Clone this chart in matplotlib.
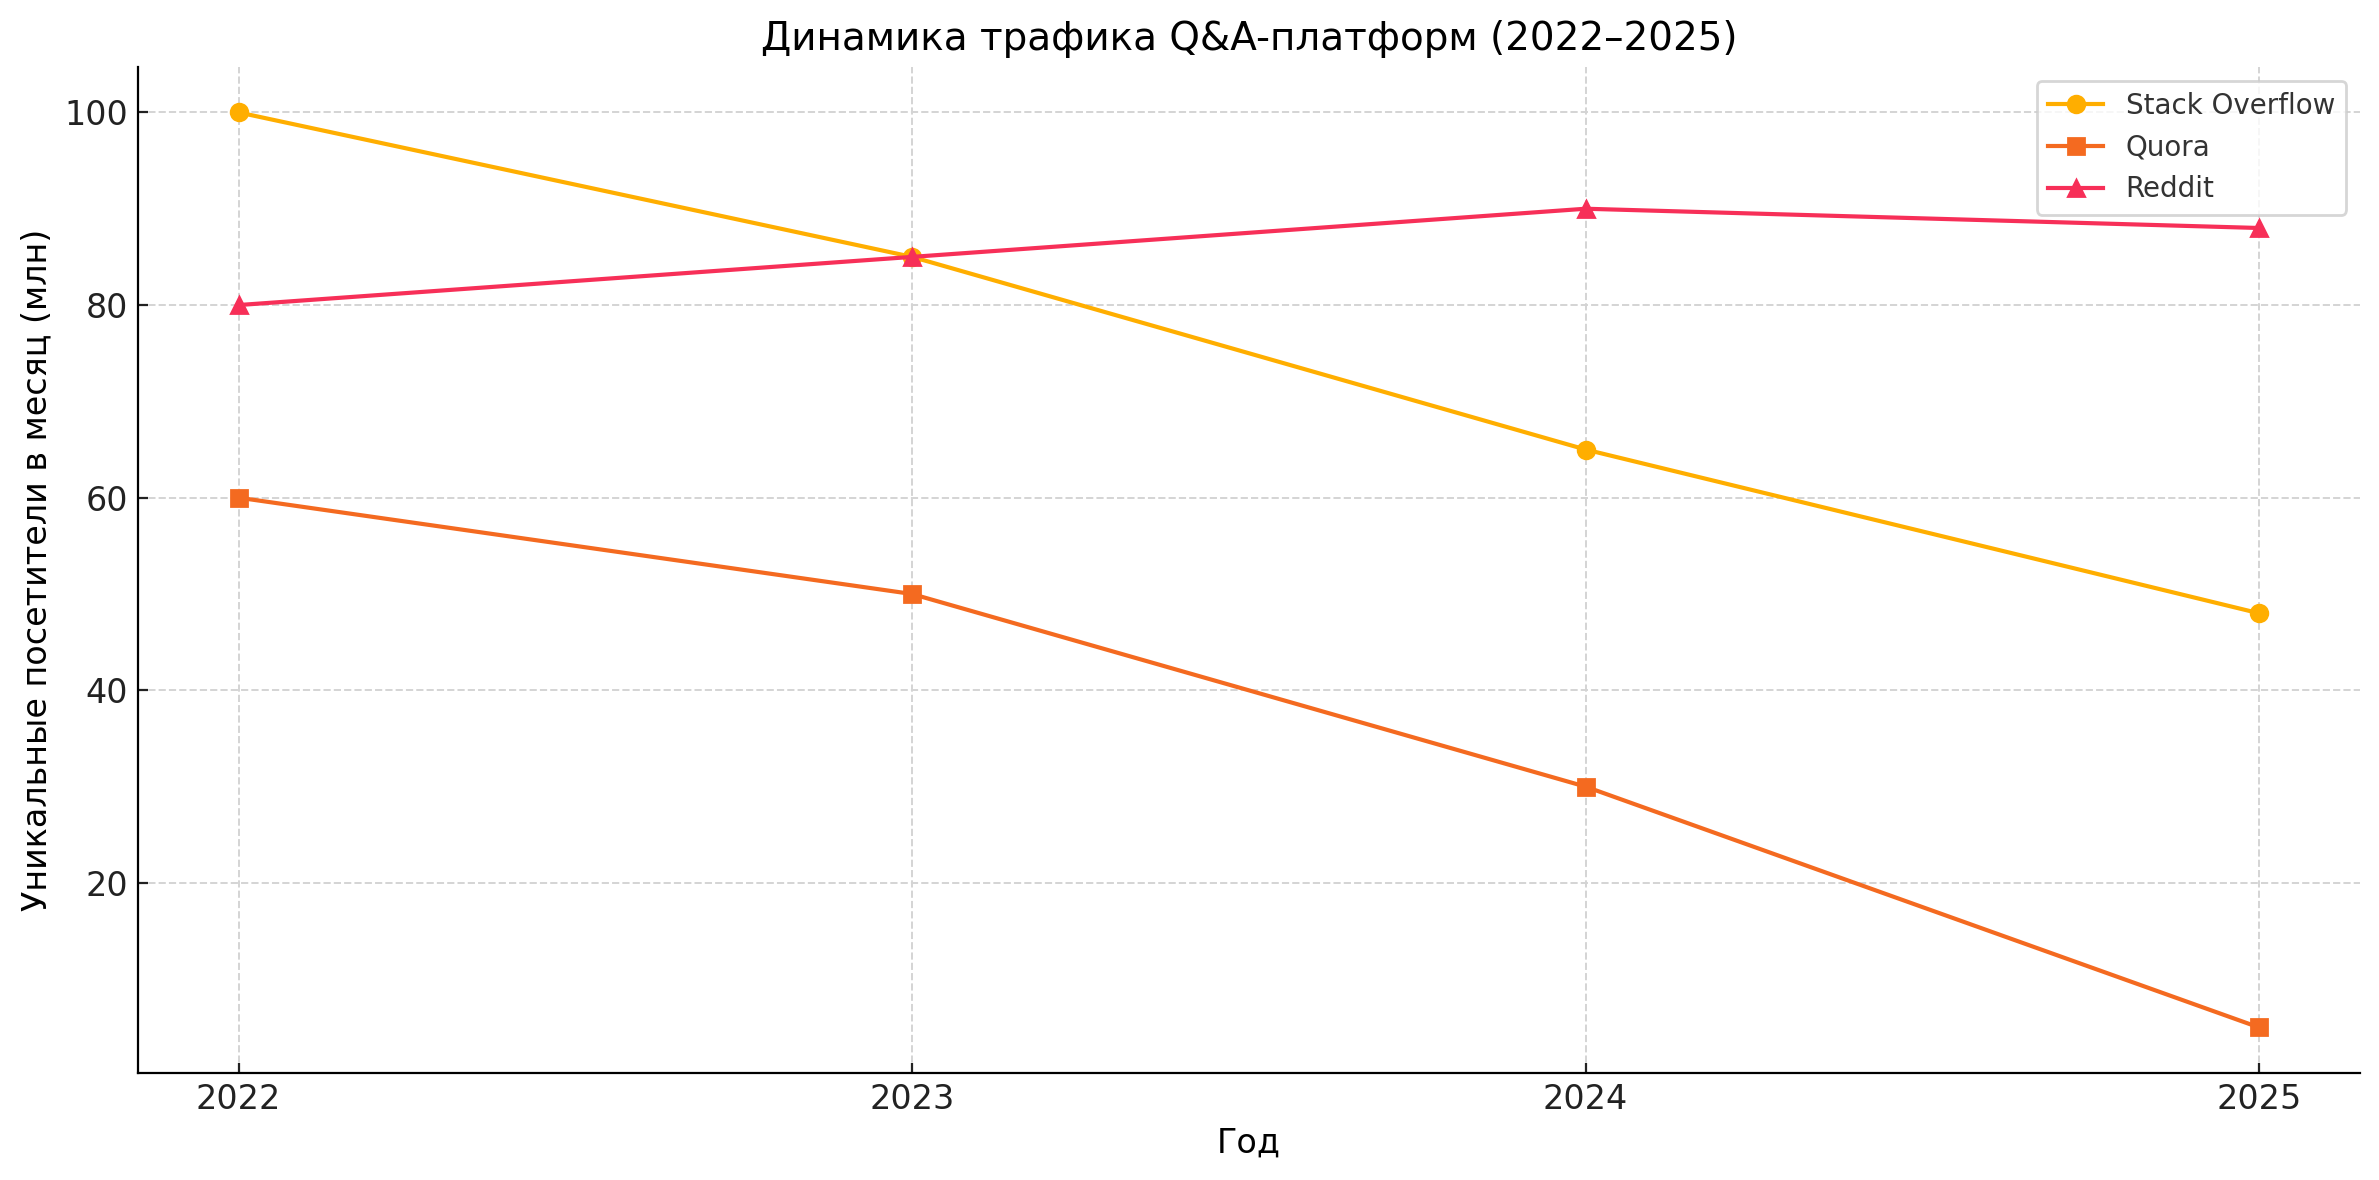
import matplotlib
matplotlib.use("Agg")
import matplotlib.pyplot as plt

years = [2022, 2023, 2024, 2025]
stack_overflow = [100, 85, 65, 48]
quora = [60, 50, 30, 5]
reddit = [80, 85, 90, 88]

plt.rcParams['font.family'] = ['DejaVu Sans']

fig, ax = plt.subplots(figsize=(12, 6), dpi=200)
ax.plot(years, stack_overflow, marker='o', color='#FFAE00', label='Stack Overflow')
ax.plot(years, quora, marker='s', color='#F46A20', label='Quora')
ax.plot(years, reddit, marker='^', color='#F72F58', label='Reddit')

ax.set_title('Динамика трафика Q&A-платформ (2022–2025)', fontsize=14)
ax.set_xlabel('Год', fontsize=12)
ax.set_ylabel('Уникальные посетители в месяц (млн)', fontsize=12)
ax.set_xticks(years)
ax.tick_params(labelsize=12, direction='in', colors='#222222')
ax.grid(True, linestyle='--', color='#d4d4d4', linewidth=0.7)
ax.spines['top'].set_visible(False)
ax.spines['right'].set_visible(False)
leg = ax.legend(fontsize=10)
for t in leg.get_texts():
    t.set_color('#333333')

plt.tight_layout()
plt.savefig('out.png', bbox_inches='tight')
